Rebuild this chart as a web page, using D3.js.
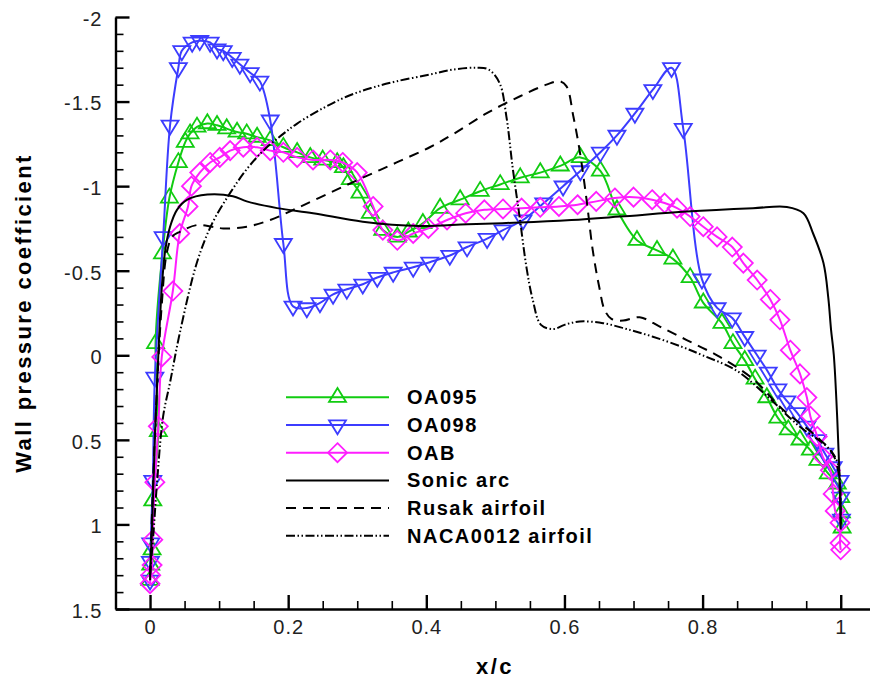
<!DOCTYPE html>
<html><head><meta charset="utf-8">
<script src="https://cdn.jsdelivr.net/npm/d3@7"></script>
<style>body{margin:0;background:#fff} svg{display:block}</style>
</head><body>
<svg id="c" width="870" height="683"></svg>
<script>
// ---------------- DATA ----------------
const xTicksMajor = [0, 0.2, 0.4, 0.6, 0.8, 1];
const xTickLabels = ["0", "0.2", "0.4", "0.6", "0.8", "1"];
const yTicksMajor = [-2, -1.5, -1, -0.5, 0, 0.5, 1, 1.5];
const yTickLabels = ["-2", "-1.5", "-1", "-0.5", "0", "0.5", "1", "1.5"];
const xTitle = "x/c";
const yTitle = "Wall pressure coefficient";
const seriesNames = ["OA095", "OA098", "OAB", "Sonic arc", "Rusak airfoil", "NACA0012 airfoil"];

const oa095 = [[0,1.33],[0.001,1.24],[0.003,1.15],[0.004,0.86],[0.012,0.45],[0.008,-0.07],[0.018,-0.60],[0.028,-0.93],[0.041,-1.14],[0.051,-1.26],[0.058,-1.31],[0.068,-1.35],[0.083,-1.37],[0.097,-1.36],[0.111,-1.34],[0.126,-1.32],[0.140,-1.31],[0.155,-1.29],[0.174,-1.27],[0.193,-1.23],[0.213,-1.20],[0.232,-1.17],[0.250,-1.155],[0.271,-1.14],[0.280,-1.11],[0.290,-1.04],[0.304,-0.96],[0.319,-0.84],[0.337,-0.74],[0.358,-0.70],[0.374,-0.73],[0.395,-0.78],[0.420,-0.87],[0.449,-0.92],[0.478,-0.97],[0.507,-1.01],[0.536,-1.05],[0.565,-1.08],[0.594,-1.12],[0.623,-1.17],[0.652,-1.09],[0.676,-0.86],[0.705,-0.68],[0.734,-0.62],[0.757,-0.57],[0.782,-0.46],[0.801,-0.31],[0.828,-0.19],[0.844,-0.07],[0.861,0.03],[0.876,0.14],[0.893,0.25],[0.909,0.37],[0.924,0.44],[0.941,0.50],[0.956,0.56],[0.967,0.62],[0.982,0.70],[0.995,0.76],[1.0,0.84],[1.001,0.93],[1.002,1.02]];

const oa098 = [[0,1.33],[0.0005,1.22],[0.001,1.11],[0.004,0.74],[0.007,0.13],[0.019,-0.70],[0.029,-1.36],[0.041,-1.70],[0.046,-1.80],[0.061,-1.85],[0.072,-1.86],[0.087,-1.85],[0.097,-1.81],[0.106,-1.80],[0.119,-1.76],[0.130,-1.72],[0.145,-1.67],[0.159,-1.62],[0.174,-1.39],[0.193,-0.66],[0.207,-0.29],[0.227,-0.28],[0.246,-0.31],[0.265,-0.36],[0.285,-0.39],[0.308,-0.42],[0.329,-0.46],[0.352,-0.49],[0.381,-0.52],[0.405,-0.55],[0.434,-0.59],[0.459,-0.64],[0.488,-0.69],[0.511,-0.74],[0.540,-0.80],[0.570,-0.90],[0.598,-1.00],[0.623,-1.09],[0.652,-1.20],[0.676,-1.30],[0.702,-1.43],[0.728,-1.57],[0.755,-1.70],[0.772,-1.34],[0.799,-0.45],[0.821,-0.28],[0.843,-0.22],[0.861,-0.11],[0.879,0.0],[0.895,0.10],[0.909,0.20],[0.922,0.27],[0.937,0.34],[0.951,0.42],[0.966,0.50],[0.977,0.58],[0.989,0.66],[0.999,0.74],[1.0,0.84],[1.001,0.97]];

const oab = [[0,1.35],[0.001,1.30],[0.003,1.24],[0.004,1.09],[0.007,0.75],[0.012,0.42],[0.017,0.01],[0.033,-0.38],[0.043,-0.72],[0.055,-0.88],[0.060,-1.00],[0.072,-1.08],[0.087,-1.14],[0.101,-1.17],[0.116,-1.21],[0.135,-1.23],[0.155,-1.23],[0.174,-1.21],[0.193,-1.20],[0.213,-1.17],[0.236,-1.155],[0.261,-1.155],[0.279,-1.14],[0.300,-1.08],[0.323,-0.88],[0.337,-0.74],[0.358,-0.68],[0.381,-0.72],[0.403,-0.75],[0.430,-0.80],[0.457,-0.84],[0.484,-0.86],[0.511,-0.865],[0.538,-0.87],[0.565,-0.875],[0.592,-0.88],[0.619,-0.89],[0.646,-0.91],[0.673,-0.93],[0.700,-0.935],[0.727,-0.92],[0.745,-0.90],[0.763,-0.87],[0.782,-0.82],[0.801,-0.76],[0.821,-0.70],[0.843,-0.64],[0.859,-0.545],[0.879,-0.445],[0.898,-0.33],[0.912,-0.21],[0.927,-0.03],[0.941,0.11],[0.951,0.25],[0.956,0.36],[0.966,0.48],[0.974,0.60],[0.985,0.68],[0.989,0.82],[0.992,0.92],[0.999,0.99],[0.999,1.11],[1.0,1.15]];

const sonicArc = [[0,1.33],[0.003,1.0],[0.007,0.5],[0.012,0.0],[0.017,-0.4],[0.022,-0.62],[0.029,-0.76],[0.039,-0.86],[0.054,-0.92],[0.083,-0.95],[0.12,-0.94],[0.14,-0.91],[0.184,-0.87],[0.236,-0.84],[0.308,-0.79],[0.39,-0.765],[0.46,-0.775],[0.535,-0.785],[0.61,-0.80],[0.68,-0.82],[0.777,-0.85],[0.873,-0.87],[0.922,-0.877],[0.946,-0.84],[0.96,-0.72],[0.975,-0.545],[0.982,-0.34],[0.986,-0.15],[0.990,0.0],[0.995,0.38],[0.998,0.7],[1.0,1.03]];

const rusak = [[0,1.30],[0.004,0.8],[0.010,0.2],[0.017,-0.3],[0.024,-0.6],[0.032,-0.70],[0.043,-0.73],[0.068,-0.77],[0.090,-0.76],[0.106,-0.75],[0.140,-0.76],[0.174,-0.80],[0.213,-0.87],[0.26,-0.96],[0.308,-1.05],[0.357,-1.14],[0.405,-1.23],[0.44,-1.31],[0.487,-1.43],[0.535,-1.53],[0.574,-1.60],[0.593,-1.62],[0.603,-1.59],[0.613,-1.41],[0.622,-1.21],[0.632,-0.92],[0.641,-0.62],[0.651,-0.39],[0.658,-0.27],[0.668,-0.215],[0.685,-0.205],[0.709,-0.225],[0.738,-0.17],[0.777,-0.09],[0.825,0.01],[0.873,0.14],[0.916,0.32],[0.965,0.48],[0.988,0.58],[0.997,0.70],[1.0,1.0]];

const naca0012 = [[0,1.30],[0.005,1.05],[0.010,0.76],[0.019,0.36],[0.029,0.16],[0.043,-0.13],[0.068,-0.55],[0.09,-0.78],[0.116,-0.96],[0.14,-1.10],[0.164,-1.21],[0.19,-1.30],[0.213,-1.37],[0.25,-1.46],[0.285,-1.53],[0.32,-1.58],[0.357,-1.62],[0.405,-1.66],[0.44,-1.69],[0.473,-1.70],[0.49,-1.69],[0.506,-1.61],[0.516,-1.41],[0.525,-1.11],[0.535,-0.82],[0.545,-0.52],[0.554,-0.33],[0.566,-0.18],[0.584,-0.155],[0.60,-0.18],[0.622,-0.20],[0.656,-0.19],[0.69,-0.155],[0.728,-0.11],[0.77,-0.05],[0.80,0.0],[0.849,0.09],[0.893,0.24],[0.94,0.42],[0.98,0.54],[0.994,0.62],[0.999,0.75],[1.0,1.0]];

// ---------------- CHART ----------------
const svg = d3.select("#c");
const FONT = "'Liberation Sans', Arial, Helvetica, sans-serif";
const x = d3.scaleLinear().domain([-0.05, 1.05]).range([115.5, 115.5 + 1.1 * 690.7]);
const y = d3.scaleLinear().domain([-2, 1.5]).range([17, 609]);
const X0 = 609, Y0 = x(-0.05);

// minor ticks
const xMinor = d3.range(-0.05, 1.0501, 0.05).filter(v => !xTicksMajor.some(m => Math.abs(m - v) < 1e-6));
const yMinor = d3.range(-2, 1.5001, 0.1).filter(v => !yTicksMajor.some(m => Math.abs(m - v) < 1e-6));

svg.append("g").attr("transform", `translate(0,${X0})`)
  .call(d3.axisBottom(x).tickValues(xMinor).tickSizeInner(-8).tickSizeOuter(0).tickFormat(""))
  .call(g => g.select(".domain").remove())
  .selectAll("line").attr("stroke", "#000").attr("stroke-width", 1.6);

svg.append("g").attr("transform", `translate(${Y0},0)`)
  .call(d3.axisLeft(y).tickValues(yMinor).tickSizeInner(-8).tickSizeOuter(0).tickFormat(""))
  .call(g => g.select(".domain").remove())
  .selectAll("line").attr("stroke", "#000").attr("stroke-width", 1.6);

const gx = svg.append("g").attr("transform", `translate(0,${X0})`)
  .call(d3.axisBottom(x).tickValues(xTicksMajor).tickSizeInner(-14).tickSizeOuter(0).tickPadding(11)
    .tickFormat((d, i) => xTickLabels[i]));
gx.select(".domain").attr("stroke", "#000").attr("stroke-width", 2.4);
gx.selectAll("line").attr("stroke", "#000").attr("stroke-width", 2.4);
gx.selectAll("text").attr("font-family", FONT).attr("font-size", 20).attr("fill", "#222").attr("letter-spacing", 1);

const gy = svg.append("g").attr("transform", `translate(${Y0},0)`)
  .call(d3.axisLeft(y).tickValues(yTicksMajor).tickSizeInner(-14).tickSizeOuter(0).tickPadding(13)
    .tickFormat((d, i) => yTickLabels[i]));
gy.select(".domain").attr("stroke", "#000").attr("stroke-width", 2.4);
gy.selectAll("line").attr("stroke", "#000").attr("stroke-width", 2.4);
gy.selectAll("text").attr("font-family", FONT).attr("font-size", 20).attr("fill", "#222").attr("dy", "0.42em").attr("letter-spacing", 1);

// axis titles
svg.append("text").attr("x", 495).attr("y", 674).attr("text-anchor", "middle")
  .attr("font-family", FONT).attr("font-size", 22).attr("font-weight", "bold").attr("letter-spacing", 2.4)
  .text(xTitle);
svg.append("text").attr("transform", "translate(31,313) rotate(-90)").attr("text-anchor", "middle")
  .attr("font-family", FONT).attr("font-size", 22).attr("font-weight", "bold").attr("letter-spacing", 2.4)
  .text(yTitle);

// symbols
const triW = 17, triH = 14, dR = 9.5;
const symbols = {
  up: `M0,${-2 * triH / 3}L${triW / 2},${triH / 3}L${-triW / 2},${triH / 3}Z`,
  down: `M0,${2 * triH / 3}L${triW / 2},${-triH / 3}L${-triW / 2},${-triH / 3}Z`,
  diamond: `M0,${-dR}L${dR},0L0,${dR}L${-dR},0Z`
};

const series = [
  { name: seriesNames[0], data: oa095, color: "#11cc11", sym: "up", dash: null },
  { name: seriesNames[1], data: oa098, color: "#3c3cff", sym: "down", dash: null },
  { name: seriesNames[2], data: oab, color: "#ff1eff", sym: "diamond", dash: null },
  { name: seriesNames[3], data: sonicArc, color: "#000", sym: null, dash: null },
  { name: seriesNames[4], data: rusak, color: "#000", sym: null, dash: "10,7" },
  { name: seriesNames[5], data: naca0012, color: "#000", sym: null, dash: "9,2.5,1.5,2.5,1.5,2.5" }
];

const line = d3.line().x(d => x(d[0])).y(d => y(d[1])).curve(d3.curveCatmullRom.alpha(0.5));

const plot = svg.append("g");
series.forEach(s => {
  plot.append("path").datum(s.data).attr("d", line)
    .attr("fill", "none").attr("stroke", s.color).attr("stroke-width", 2)
    .attr("stroke-dasharray", s.dash);
  if (s.sym) {
    plot.append("g").selectAll("path").data(s.data).join("path")
      .attr("transform", d => `translate(${x(d[0])},${y(d[1])})`)
      .attr("d", symbols[s.sym]).attr("fill", "none").attr("stroke", s.color).attr("stroke-width", 1.8);
  }
});

// legend
const legY0 = 397.3, legDY = 27.7, legX1 = 286, legX2 = 389, legTx = 407;
const leg = svg.append("g");
series.forEach((s, i) => {
  const yy = legY0 + i * legDY;
  leg.append("line").attr("x1", legX1).attr("x2", legX2).attr("y1", yy).attr("y2", yy)
    .attr("stroke", s.color).attr("stroke-width", 2).attr("stroke-dasharray", s.dash);
  if (s.sym) {
    leg.append("path").attr("transform", `translate(${(legX1 + legX2) / 2},${yy})`)
      .attr("d", symbols[s.sym]).attr("fill", "none").attr("stroke", s.color).attr("stroke-width", 1.8);
  }
  leg.append("text").attr("x", legTx).attr("y", yy + 7)
    .attr("font-family", FONT).attr("font-size", 20).attr("font-weight", "bold").attr("letter-spacing", 1.5)
    .attr("fill", "#000").text(s.name);
});
</script>
</body></html>
